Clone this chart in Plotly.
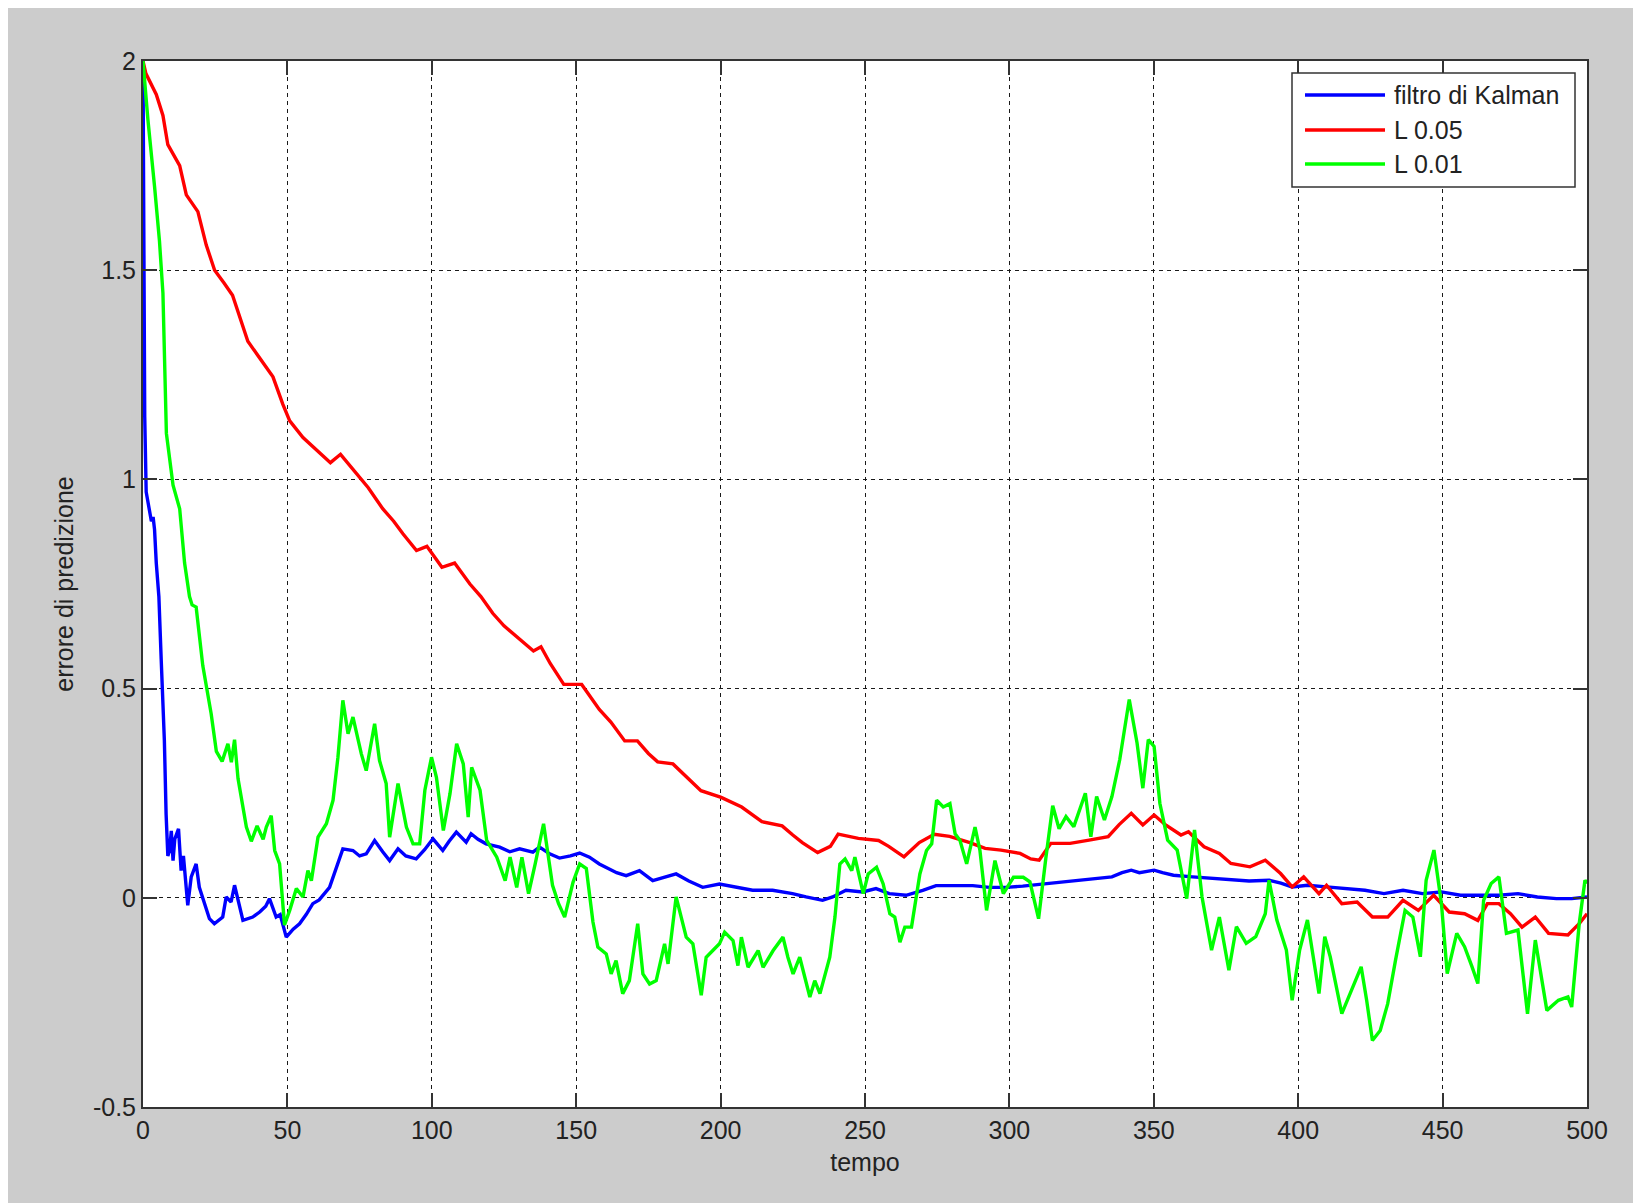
import plotly.graph_objects as go

# ---------------- data ----------------
series_names = ["filtro di Kalman", "L 0.05", "L 0.01"]
series_colors = ["#0000ff", "#ff0000", "#00ff00"]

x_ticks = [0, 50, 100, 150, 200, 250, 300, 350, 400, 450, 500]
y_ticks = [-0.5, 0, 0.5, 1, 1.5, 2]
y_tick_text = ["-0.5", "0", "0.5", "1", "1.5", "2"]

t_kalman = [0, 0.2, 0.6, 1.1, 1.7, 2.3, 2.9, 3.5, 4.0, 4.6, 5.5, 6.3, 7.4, 8.0, 8.6, 9.2,
            9.8, 10.4, 11.0, 12.3, 13.2, 14.0, 15.5, 16.7, 18.4, 19.5, 21.0, 23.0, 24.7,
            27.6, 28.8, 30.5, 31.7, 34.6, 38.0, 40.4, 42.5, 43.8, 46.1, 47.5, 49.6, 52.0,
            54.2, 56.5, 58.8, 61.0, 64.6, 67.0, 69.2, 72.7, 75.0, 77.3, 80.2, 83.0, 85.4,
            88.3, 91.0, 94.6, 97.5, 100.4, 103.8, 106.0, 108.5, 111.9, 113.6, 116.0, 118.8,
            123.5, 127.0, 130.4, 135.0, 137.3, 140.8, 144.2, 148.0, 151.2, 154.6, 158.0,
            160.4, 164.0, 167.3, 171.9, 176.5, 180.0, 184.6, 189.0, 193.8, 199.6, 206.5,
            211.1, 218.0, 224.9, 229.6, 235.3, 238.8, 243.4, 249.2, 253.8, 258.4, 264.2,
            270.0, 274.6, 281.5, 287.3, 293.1, 298.8, 304.6, 310.4, 316.0, 323.6, 330.0,
            335.5, 339.0, 342.2, 345.0, 347.5, 350.1, 353.0, 356.8, 363.4, 370.0, 376.7,
            383.0, 390.0, 394.0, 397.9, 403.2, 409.8, 416.4, 423.1, 429.7, 436.3, 443.0,
            449.6, 456.2, 462.9, 469.5, 476.1, 482.8, 489.4, 494.7, 500.0]
e_kalman = [2.0, 1.46, 1.15, 0.97, 0.95, 0.92, 0.90, 0.91, 0.88, 0.80, 0.72, 0.57, 0.376, 0.20,
            0.10, 0.113, 0.16, 0.089, 0.14, 0.165, 0.065, 0.10, -0.018, 0.05, 0.081, 0.025,
            -0.01, -0.05, -0.062, -0.046, 0.002, -0.01, 0.03, -0.054, -0.046, -0.034, -0.02,
            -0.002, -0.046, -0.04, -0.094, -0.075, -0.062, -0.04, -0.014, -0.005, 0.025,
            0.07, 0.117, 0.113, 0.10, 0.105, 0.137, 0.11, 0.089, 0.117, 0.10, 0.093, 0.115,
            0.141, 0.113, 0.135, 0.157, 0.133, 0.153, 0.14, 0.129, 0.121, 0.11, 0.117, 0.109,
            0.121, 0.105, 0.095, 0.10, 0.107, 0.097, 0.081, 0.073, 0.06, 0.053, 0.065, 0.041,
            0.048, 0.057, 0.04, 0.025, 0.033, 0.025, 0.018, 0.018, 0.01, 0.002, -0.006,
            0.002, 0.018, 0.014, 0.022, 0.01, 0.006, 0.018, 0.029, 0.029, 0.029, 0.025,
            0.025, 0.028, 0.032, 0.037, 0.042, 0.045, 0.05, 0.06, 0.066, 0.06, 0.062, 0.066,
            0.06, 0.054, 0.05, 0.046, 0.042, 0.04, 0.042, 0.035, 0.026, 0.03, 0.026, 0.022,
            0.018, 0.01, 0.018, 0.01, 0.014, 0.006, 0.006, 0.006, 0.01, 0.002, -0.002,
            -0.002, 0.002]

t_l005 = [0, 1.0, 4.6, 6.9, 8.6, 12.7, 15.0, 19.0, 21.9, 24.8, 28.0, 31.0, 36.3, 41.5, 45.0,
          48.4, 50.8, 55.4, 60.0, 64.9, 68.4, 72.0, 78.0, 83.0, 86.8, 90.0, 94.7, 98.3,
          103.5, 107.9, 113.2, 117.0, 121.1, 125.0, 129.9, 135.2, 137.8, 141.0, 145.7,
          151.9, 158.0, 162.0, 166.8, 171.2, 175.0, 178.2, 183.5, 188.0, 193.2, 200.2,
          207.3, 214.3, 221.3, 225.0, 228.3, 233.6, 238.0, 240.7, 247.7, 254.7, 258.2,
          263.5, 268.8, 274.0, 279.3, 286.3, 291.6, 297.1, 303.7, 307.4, 310.3, 314.3,
          321.0, 327.6, 334.2, 338.0, 342.2, 346.2, 350.1, 354.1, 359.4, 362.0, 367.4,
          372.7, 376.7, 383.3, 388.6, 393.9, 397.9, 401.9, 407.2, 409.8, 415.1, 420.4,
          425.7, 431.0, 436.3, 441.6, 446.9, 452.3, 457.6, 462.2, 465.5, 469.5, 473.5,
          477.5, 482.1, 486.7, 493.4, 497.3, 500.0]
e_l005 = [2.0, 1.97, 1.92, 1.87, 1.80, 1.75, 1.68, 1.64, 1.56, 1.50, 1.47, 1.44, 1.33, 1.28,
          1.245, 1.18, 1.14, 1.10, 1.07, 1.04, 1.06, 1.03, 0.98, 0.93, 0.90, 0.87, 0.83,
          0.84, 0.79, 0.80, 0.75, 0.72, 0.68, 0.65, 0.62, 0.59, 0.60, 0.56, 0.51, 0.51,
          0.45, 0.42, 0.375, 0.375, 0.345, 0.325, 0.32, 0.29, 0.256, 0.24, 0.217, 0.182,
          0.172, 0.15, 0.132, 0.108, 0.123, 0.152, 0.142, 0.137, 0.123, 0.098, 0.132,
          0.152, 0.147, 0.132, 0.118, 0.114, 0.106, 0.093, 0.09, 0.13, 0.13, 0.138, 0.146,
          0.175, 0.202, 0.174, 0.198, 0.174, 0.15, 0.158, 0.122, 0.106, 0.082, 0.074,
          0.09, 0.058, 0.026, 0.05, 0.01, 0.03, -0.014, -0.01, -0.046, -0.046, -0.006,
          -0.03, 0.006, -0.034, -0.038, -0.054, -0.014, -0.014, -0.038, -0.07, -0.046,
          -0.085, -0.089, -0.062, -0.038]

t_l001 = [0, 1.7, 4.0, 5.7, 6.9, 7.5, 8.1, 10.4, 12.7, 14.4, 16.1, 17.0, 18.4, 20.7, 23.6,
          25.4, 27.4, 29.4, 30.6, 31.7, 32.9, 35.8, 37.5, 39.5, 41.6, 42.7, 44.4, 45.6,
          47.3, 49.0, 50.8, 53.1, 55.4, 57.1, 58.3, 60.6, 63.5, 65.8, 67.5, 69.2, 71.0,
          72.7, 75.6, 77.3, 80.2, 81.9, 84.2, 85.4, 88.3, 91.2, 93.5, 95.8, 97.6, 99.9,
          101.6, 104.0, 106.3, 108.6, 110.9, 112.6, 113.8, 116.7, 119.0, 122.5, 125.4,
          127.1, 129.4, 131.2, 133.5, 135.8, 138.7, 141.8, 143.9, 146.0, 148.9, 151.2,
          153.5, 155.8, 157.5, 160.4, 162.1, 163.8, 166.1, 168.4, 171.3, 173.1, 175.4,
          177.7, 180.6, 181.8, 184.6, 188.1, 190.4, 193.3, 195.0, 197.3, 199.6, 201.4,
          204.3, 206.0, 207.2, 209.5, 213.0, 214.7, 218.2, 221.6, 223.3, 225.1, 227.4,
          230.9, 232.6, 234.4, 237.8, 239.6, 241.3, 243.1, 245.4, 246.5, 249.4, 251.1,
          254.0, 256.3, 258.6, 260.3, 262.1, 263.8, 266.1, 269.0, 271.3, 273.1, 274.8,
          277.1, 279.4, 281.2, 282.9, 285.2, 288.1, 289.8, 292.1, 295.0, 297.9, 301.4,
          304.8, 307.1, 310.1, 312.6, 315.0, 317.2, 319.6, 322.3, 326.3, 328.2, 330.2,
          332.9, 335.5, 338.2, 341.5, 344.2, 346.2, 348.1, 350.1, 352.1, 354.8, 358.1,
          361.4, 364.1, 366.7, 370.0, 372.7, 376.0, 378.6, 382.0, 385.3, 388.6, 389.9,
          392.6, 395.9, 397.9, 400.5, 403.2, 405.2, 407.2, 409.2, 411.1, 415.1, 418.4,
          421.8, 423.7, 425.7, 428.4, 431.0, 433.7, 437.0, 439.7, 442.3, 444.3, 447.0,
          449.6, 451.6, 454.9, 457.6, 460.2, 462.2, 464.2, 466.8, 469.5, 472.1, 476.1,
          479.4, 482.1, 486.1, 490.1, 493.4, 494.7, 497.3, 499.3, 500.0]
e_l001 = [2.0, 1.86, 1.70, 1.57, 1.445, 1.29, 1.11, 0.986, 0.93, 0.80, 0.72, 0.70, 0.695,
          0.555, 0.44, 0.35, 0.326, 0.368, 0.324, 0.378, 0.285, 0.169, 0.135, 0.172, 0.14,
          0.169, 0.196, 0.113, 0.081, -0.065, -0.03, 0.022, 0.002, 0.065, 0.041, 0.145,
          0.177, 0.233, 0.336, 0.472, 0.392, 0.432, 0.344, 0.304, 0.416, 0.328, 0.273,
          0.145, 0.273, 0.169, 0.129, 0.129, 0.257, 0.336, 0.288, 0.161, 0.249, 0.368,
          0.32, 0.193, 0.312, 0.257, 0.137, 0.097, 0.041, 0.097, 0.025, 0.097, 0.01, 0.081,
          0.177, 0.03, -0.014, -0.046, 0.037, 0.081, 0.07, -0.058, -0.118, -0.134, -0.182,
          -0.15, -0.229, -0.198, -0.062, -0.182, -0.206, -0.198, -0.11, -0.158, 0.002,
          -0.094, -0.11, -0.233, -0.142, -0.126, -0.11, -0.082, -0.102, -0.162, -0.094,
          -0.166, -0.126, -0.166, -0.126, -0.094, -0.142, -0.182, -0.142, -0.237, -0.198,
          -0.229, -0.142, -0.046, 0.081, 0.093, 0.065, 0.097, 0.01, 0.057, 0.073, 0.033,
          -0.038, -0.046, -0.106, -0.07, -0.07, 0.057, 0.113, 0.129, 0.233, 0.217, 0.225,
          0.153, 0.137, 0.081, 0.169, 0.113, -0.03, 0.089, 0.01, 0.049, 0.049, 0.038,
          -0.05, 0.094, 0.22, 0.165, 0.194, 0.17, 0.25, 0.146, 0.242, 0.186, 0.242, 0.33,
          0.474, 0.37, 0.262, 0.378, 0.362, 0.226, 0.138, 0.114, -0.002, 0.162, 0.002,
          -0.125, -0.046, -0.173, -0.069, -0.109, -0.093, -0.038, 0.042, -0.053, -0.125,
          -0.245, -0.125, -0.053, -0.141, -0.229, -0.093, -0.141, -0.277, -0.221, -0.165,
          -0.245, -0.341, -0.317, -0.253, -0.149, -0.03, -0.046, -0.141, 0.042, 0.114,
          -0.014, -0.181, -0.085, -0.117, -0.165, -0.205, -0.006, 0.034, 0.05, -0.085,
          -0.077, -0.277, -0.101, -0.269, -0.245, -0.237, -0.261, -0.062, 0.042, 0.034]

x_title = "tempo"
y_title = "errore di predizione"

# ---------------- figure ----------------
# the page body adds an 8px white margin at the top and left
OFF = 8
W, H = 1633, 1195
ML, MR, MT, MB = 135, 54, 53, 96
PW, PH = W - ML - MR, H - MT - MB

def px_x(p):  # page pixel -> paper x
    return (p - OFF - ML) / PW

def px_y(p):  # page pixel -> paper y
    return (H - MB - (p - OFF)) / PH

FONT = "Liberation Sans, Arial, sans-serif"
TXT = "#222222"
AX = "#333333"

fig = go.Figure()
for t, e, name, col in zip([t_kalman, t_l005, t_l001], [e_kalman, e_l005, e_l001],
                           series_names, series_colors):
    fig.add_trace(go.Scatter(x=t, y=e, mode="lines", name=name,
                             line=dict(color=col, width=3.4), showlegend=False))

axis_common = dict(
    showline=True, linecolor=AX, linewidth=2, mirror="ticks",
    ticks="inside", ticklen=14, tickwidth=1.5, tickcolor=AX,
    showgrid=True, gridcolor="#1a1a1a", gridwidth=1.4, griddash="4px,4px",
    zeroline=False, tickfont=dict(family=FONT, size=25, color=TXT),
)

fig.update_xaxes(range=[0, 500], tickvals=x_ticks, ticktext=[str(v) for v in x_ticks],
                 title=dict(text=x_title, font=dict(family=FONT, size=25, color=TXT), standoff=10),
                 **axis_common)
fig.update_yaxes(range=[-0.5, 2], tickvals=y_ticks, ticktext=y_tick_text,
                 title=dict(text=y_title, font=dict(family=FONT, size=25, color=TXT), standoff=12),
                 **axis_common)

shapes = []
# legend box
shapes.append(dict(type="rect", xref="paper", yref="paper", x0=px_x(1292), x1=px_x(1575),
                   y0=px_y(187), y1=px_y(73), fillcolor="white",
                   line=dict(color=AX, width=1.5), layer="above"))
annotations = []
rows_py = [95, 130, 164]
for name, col, py in zip(series_names, series_colors, rows_py):
    shapes.append(dict(type="line", xref="paper", yref="paper", x0=px_x(1305), x1=px_x(1385),
                       y0=px_y(py), y1=px_y(py), line=dict(color=col, width=3.4), layer="above"))
    annotations.append(dict(xref="paper", yref="paper", x=px_x(1392), y=px_y(py), text=name,
                            showarrow=False, xanchor="left", yanchor="middle",
                            font=dict(family=FONT, size=25, color=TXT)))

fig.update_layout(
    width=W, height=H,
    margin=dict(l=ML, r=MR, t=MT, b=MB, pad=0),
    paper_bgcolor="#cccccc", plot_bgcolor="white",
    shapes=shapes, annotations=annotations, showlegend=False,
)

fig.write_html("out.html")
